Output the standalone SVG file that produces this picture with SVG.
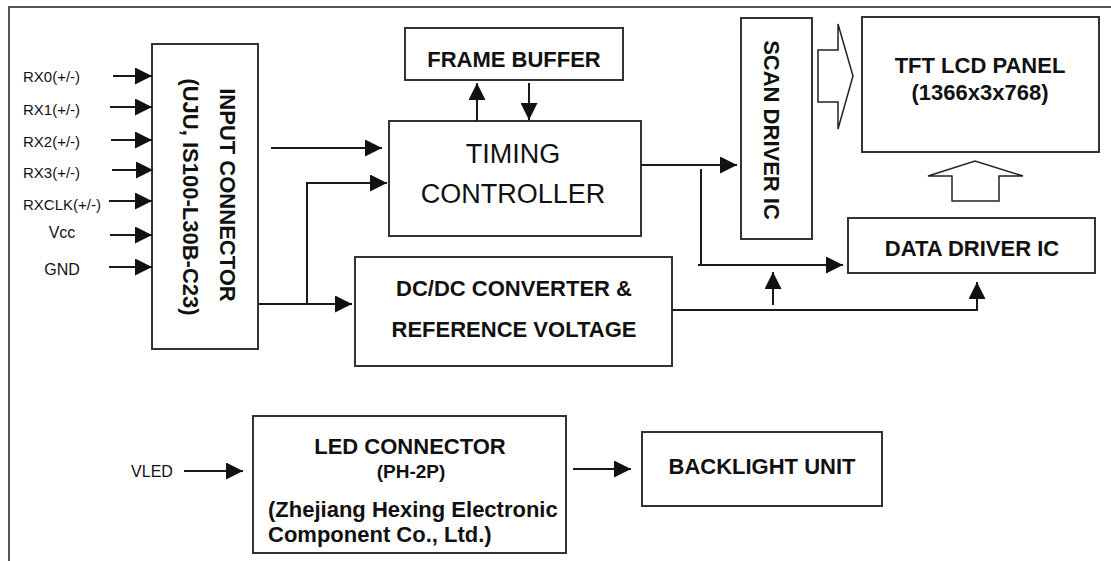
<svg xmlns="http://www.w3.org/2000/svg" width="1111" height="561" viewBox="0 0 1111 561">
<style>
.box{fill:#fff;stroke:#333;stroke-width:2}
.ln{fill:none;stroke:#1a1a1a;stroke-width:2}
.hol{fill:#fff;stroke:#222;stroke-width:1.5}
.b{font-family:"Liberation Sans",Arial,sans-serif;font-weight:bold;font-size:22px;fill:#111;text-anchor:middle}
.bs{text-anchor:start}
.r{font-family:"Liberation Sans",Arial,sans-serif;fill:#111}
</style>
<defs>
<marker id="ah" viewBox="0 0 17 17" markerWidth="17" markerHeight="17" refX="17" refY="8.5" orient="auto" markerUnits="userSpaceOnUse">
<path d="M0,0 L17,8.5 L0,17 Z" fill="#111"/>
</marker>
</defs>
<rect width="1111" height="561" fill="#fff"/>
<g id="frame">
<path d="M8,7 H1111 M9,7 V561" fill="none" stroke="#555" stroke-width="2"/>
</g>

<g id="input-labels">
<text class="r" x="23" y="82" font-size="15">RX0(+/-)</text>
<text class="r" x="23" y="115" font-size="15">RX1(+/-)</text>
<text class="r" x="23" y="147" font-size="15">RX2(+/-)</text>
<text class="r" x="23" y="178" font-size="15">RX3(+/-)</text>
<text class="r" x="23" y="210" font-size="15">RXCLK(+/-)</text>
<text class="r" x="62" y="238" font-size="16" text-anchor="middle">Vcc</text>
<text class="r" x="62" y="275" font-size="16" text-anchor="middle">GND</text>
<text class="r" x="152" y="477" font-size="16" text-anchor="middle">VLED</text>
</g>

<g id="input-connector">
<rect class="box" x="152" y="44" width="106" height="305"/>
<text class="b" transform="translate(220,195) rotate(90)">INPUT CONNECTOR</text>
<text class="b" transform="translate(183,197) rotate(90)">(UJU, IS100-L30B-C23)</text>
</g>

<g id="frame-buffer">
<rect class="box" x="405" y="28" width="218" height="52"/>
<text class="b" x="514" y="67">FRAME BUFFER</text>
</g>

<g id="timing-controller">
<rect class="box" x="389" y="121" width="252" height="115"/>
<text class="r" x="513" y="163" font-size="27" text-anchor="middle">TIMING</text>
<text class="r" x="513" y="203" font-size="27" text-anchor="middle">CONTROLLER</text>
</g>

<g id="dcdc">
<rect class="box" x="355" y="257" width="317" height="109"/>
<text class="b" x="514" y="296">DC/DC CONVERTER &amp;</text>
<text class="b" x="514" y="337">REFERENCE VOLTAGE</text>
</g>

<g id="scan-driver">
<rect class="box" x="741" y="18" width="71" height="221"/>
<text class="b" transform="translate(764,130) rotate(90)">SCAN DRIVER IC</text>
</g>

<g id="tft-panel">
<rect class="box" x="862" y="17" width="237" height="135"/>
<text class="b" x="980" y="73">TFT LCD PANEL</text>
<text class="b" x="980" y="100">(1366x3x768)</text>
</g>

<g id="data-driver">
<rect class="box" x="848" y="218" width="247" height="55"/>
<text class="b" x="972" y="256">DATA DRIVER IC</text>
</g>

<g id="led-connector">
<rect class="box" x="253" y="416" width="313" height="137"/>
<text class="b" x="410" y="454">LED CONNECTOR</text>
<text class="b" x="411" y="478" style="font-size:19px">(PH-2P)</text>
<text class="b bs" x="268" y="517">(Zhejiang Hexing Electronic</text>
<text class="b bs" x="268" y="542">Component Co., Ltd.)</text>
</g>

<g id="backlight">
<rect class="box" x="642" y="432" width="240" height="74"/>
<text class="b" x="762" y="474">BACKLIGHT UNIT</text>
</g>

<g id="connectors">
<path class="ln" marker-end="url(#ah)" d="M113,76 H152"/>
<path class="ln" marker-end="url(#ah)" d="M110,107 H152"/>
<path class="ln" marker-end="url(#ah)" d="M111,140 H152"/>
<path class="ln" marker-end="url(#ah)" d="M112,170 H153"/>
<path class="ln" marker-end="url(#ah)" d="M109,201 H152"/>
<path class="ln" marker-end="url(#ah)" d="M110,235 H152"/>
<path class="ln" marker-end="url(#ah)" d="M109,267 H152"/>
<path class="ln" marker-end="url(#ah)" d="M271,148 H382"/>
<path class="ln" marker-end="url(#ah)" d="M307,304 V183 H387"/>
<path class="ln" marker-end="url(#ah)" d="M259,304 H352"/>
<path class="ln" marker-end="url(#ah)" d="M477,121 V83"/>
<path class="ln" marker-end="url(#ah)" d="M529,83 V120"/>
<path class="ln" marker-end="url(#ah)" d="M641,165 H737"/>
<path class="ln" marker-end="url(#ah)" d="M701,169 V265 H843"/>
<path class="ln" d="M698,265 H702"/>
<path class="ln" marker-end="url(#ah)" d="M773,305 V272"/>
<path class="ln" marker-end="url(#ah)" d="M672,310 H977 V282"/>
<path class="ln" marker-end="url(#ah)" d="M184,471 H243"/>
<path class="ln" marker-end="url(#ah)" d="M573,469 H631"/>
<polygon class="hol" points="818,50 838,50 838,24 853,76 838,129 838,102 818,102"/>
<polygon class="hol" points="952,201 952,176 928,176 975,161 1023,176 999,176 999,201"/>
</g>
</svg>
